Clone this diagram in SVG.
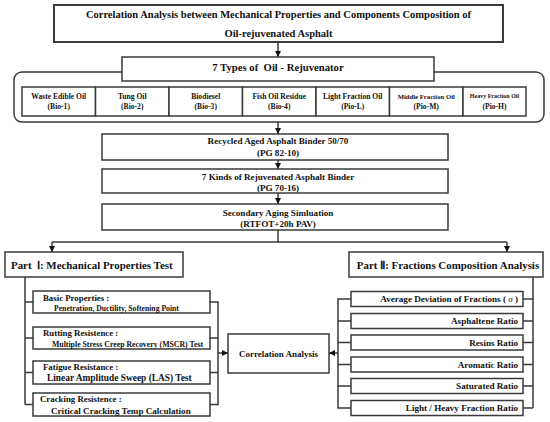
<svg xmlns="http://www.w3.org/2000/svg" width="550" height="422" viewBox="0 0 550 422">
<defs>
<marker id="ah" viewBox="0 0 10 10" refX="10" refY="5" markerWidth="6" markerHeight="6" markerUnits="userSpaceOnUse" orient="auto">
<path d="M0,0 L10,5 L0,10 Z" fill="#111"/>
</marker>
<style>
.b{fill:#fff;stroke:#3a3a3a;stroke-width:1.5}
.t{font-family:"Liberation Serif","Times New Roman",serif;font-weight:bold;fill:#111;text-anchor:middle;dominant-baseline:central}
.l{stroke:#3a3a3a;stroke-width:1.5;fill:none}
.s{text-anchor:start}
.e{text-anchor:end}
</style>
</defs>
<rect width="550" height="422" fill="#fff"/>
<g id="connectors">
<path class="l" marker-end="url(#ah)" d="M278,42 V57"/>
<path class="l" marker-end="url(#ah)" d="M278,122 V134"/>
<path class="l" marker-end="url(#ah)" d="M278,160 V169"/>
<path class="l" marker-end="url(#ah)" d="M278,193 V204"/>
<path class="l" d="M278,230 V242 M52,242 H507"/>
<path class="l" marker-end="url(#ah)" d="M52,242 V252"/>
<path class="l" marker-end="url(#ah)" d="M507,242 V252"/>
<path class="l" d="M25,277 V404.5 M25,302 H33 M25,338 H33 M25,372.5 H33 M25,404.5 H33"/>
<path class="l" d="M210,302 H218 V404.5 H210 M210,338 H218 M210,372.5 H218"/>
<path class="l" marker-end="url(#ah)" d="M218,353 H228"/>
<path class="l" d="M533,277 V408 M523,299 H533 M523,321 H533 M523,342.5 H533 M523,364.5 H533 M523,386 H533 M523,408 H533"/>
<path class="l" d="M351,299 H338 V408 H351 M338,321 H351 M338,342.5 H351 M338,364.5 H351 M338,386 H351"/>
<path class="l" marker-end="url(#ah)" d="M338,353 H329"/>
</g>
<g id="title">
<rect class="b" x="54" y="5" width="449" height="37" style="stroke-width:2"/>
<text class="t" x="278.5" y="14.5" font-size="10.5">Correlation Analysis between Mechanical Properties and Components Composition of</text>
<text class="t" x="278.5" y="33" font-size="10.5">Oil-rejuvenated Asphalt</text>
</g>
<g id="rejuvenators">
<rect class="b" x="14" y="72" width="530" height="50" rx="8"/>
<rect class="b" x="122" y="57" width="312" height="24"/>
<text class="t" x="278" y="67" font-size="10.7" xml:space="preserve">7 Types of  Oil - Rejuvenator</text>
</g>
<g id="cells">
<rect class="b" x="22" y="87" width="73.5" height="29"/>
<rect class="b" x="95.5" y="87" width="73.5" height="29"/>
<rect class="b" x="169" y="87" width="73.5" height="29"/>
<rect class="b" x="242.5" y="87" width="73.5" height="29"/>
<rect class="b" x="316" y="87" width="73.5" height="29"/>
<rect class="b" x="389.5" y="87" width="73.5" height="29"/>
<rect class="b" x="463" y="87" width="63" height="29"/>
<g font-size="7.6">
<text class="t" x="58.75" y="96">Waste Edible Oil</text><text class="t" x="58.75" y="106">(Bio-1)</text>
<text class="t" x="132.25" y="96">Tung Oil</text><text class="t" x="132.25" y="106">(Bio-2)</text>
<text class="t" x="205.75" y="96">Biodiesel</text><text class="t" x="205.75" y="106">(Bio-3)</text>
<text class="t" x="279.25" y="96">Fish Oil Residue</text><text class="t" x="279.25" y="106">(Bio-4)</text>
<text class="t" x="352.75" y="96">Light Fraction Oil</text><text class="t" x="352.75" y="106">(Pio-L)</text>
<text class="t" x="426.25" y="96" font-size="6.7">Middle Fraction Oil</text><text class="t" x="426.25" y="106">(Pio-M)</text>
<text class="t" x="494.5" y="96" font-size="6">Heavy Fraction Oil</text><text class="t" x="494.5" y="106">(Pio-H)</text>
</g>
</g>
<g id="recycled">
<rect class="b" x="102" y="134" width="346" height="26"/>
<text class="t" x="278" y="140.5" font-size="9.1">Recycled Aged Asphalt Binder 50/70</text>
<text class="t" x="278" y="152.5" font-size="9.1">(PG 82-10)</text>
</g>
<g id="rejuvenated">
<rect class="b" x="102" y="169" width="346" height="24"/>
<text class="t" x="278" y="176.5" font-size="9.1">7 Kinds of Rejuvenated Asphalt Binder</text>
<text class="t" x="278" y="187.5" font-size="9.1">(PG 70-16)</text>
</g>
<g id="aging">
<rect class="b" x="102" y="204" width="346" height="26"/>
<text class="t" x="278" y="212.5" font-size="9.1">Secondary Aging Simluation</text>
<text class="t" x="278" y="224" font-size="9.1">(RTFOT+20h PAV)</text>
</g>
<g id="part1">
<rect class="b" x="5" y="252" width="178" height="25"/>
<text class="t s" x="11" y="264.5" font-size="10.9" xml:space="preserve">Part  Ⅰ: Mechanical Properties Test</text>
</g>
<g id="part2">
<rect class="b" x="349" y="252" width="194" height="25"/>
<text class="t" x="448" y="264.5" font-size="10.9">Part Ⅱ: Fractions Composition Analysis</text>
</g>
<g id="basic">
<rect class="b" x="33" y="291" width="177" height="22"/>
<text class="t s" x="43" y="298" font-size="8.8">Basic Properties :</text>
<text class="t s" x="54" y="308" font-size="7.7">Penetration, Ductility, Softening Point</text>
</g>
<g id="rutting">
<rect class="b" x="33" y="327" width="177" height="22"/>
<text class="t s" x="43" y="333" font-size="8.8">Rutting Resistence :</text>
<text class="t s" x="52" y="344" font-size="7.8">Multiple Stress Creep Recovery (MSCR) Test</text>
</g>
<g id="fatigue">
<rect class="b" x="33" y="361" width="177" height="23"/>
<text class="t s" x="43" y="367" font-size="8.8">Fatigue Resistance :</text>
<text class="t s" x="47" y="378" font-size="9.4">Linear Amplitude Sweep (LAS) Test</text>
</g>
<g id="cracking">
<rect class="b" x="33" y="393" width="177" height="23"/>
<text class="t s" x="40" y="398.5" font-size="8.8">Cracking Resistence :</text>
<text class="t s" x="51" y="410.5" font-size="9.1">Critical Cracking Temp Calculation</text>
</g>
<g id="correlation">
<rect class="b" x="228" y="334" width="101" height="39"/>
<text class="t" x="278.5" y="353.5" font-size="9">Correlation Analysis</text>
</g>
<g id="fractions" font-size="9.1">
<rect class="b" x="351" y="291.5" width="172" height="15"/>
<text class="t e" x="518" y="299">Average Deviation of Fractions ( <tspan font-style="italic" font-weight="normal">σ</tspan> )</text>
<rect class="b" x="351" y="313.5" width="172" height="15"/>
<text class="t e" x="518" y="321">Asphaltene Ratio</text>
<rect class="b" x="351" y="335" width="172" height="15"/>
<text class="t e" x="518" y="342.5">Resins Ratio</text>
<rect class="b" x="351" y="357" width="172" height="15"/>
<text class="t e" x="518" y="364.5">Aromatic Ratio</text>
<rect class="b" x="351" y="378.5" width="172" height="15"/>
<text class="t e" x="518" y="386">Saturated Ratio</text>
<rect class="b" x="351" y="400.5" width="172" height="15"/>
<text class="t e" x="518" y="408">Light / Heavy Fraction Ratio</text>
</g>
</svg>
